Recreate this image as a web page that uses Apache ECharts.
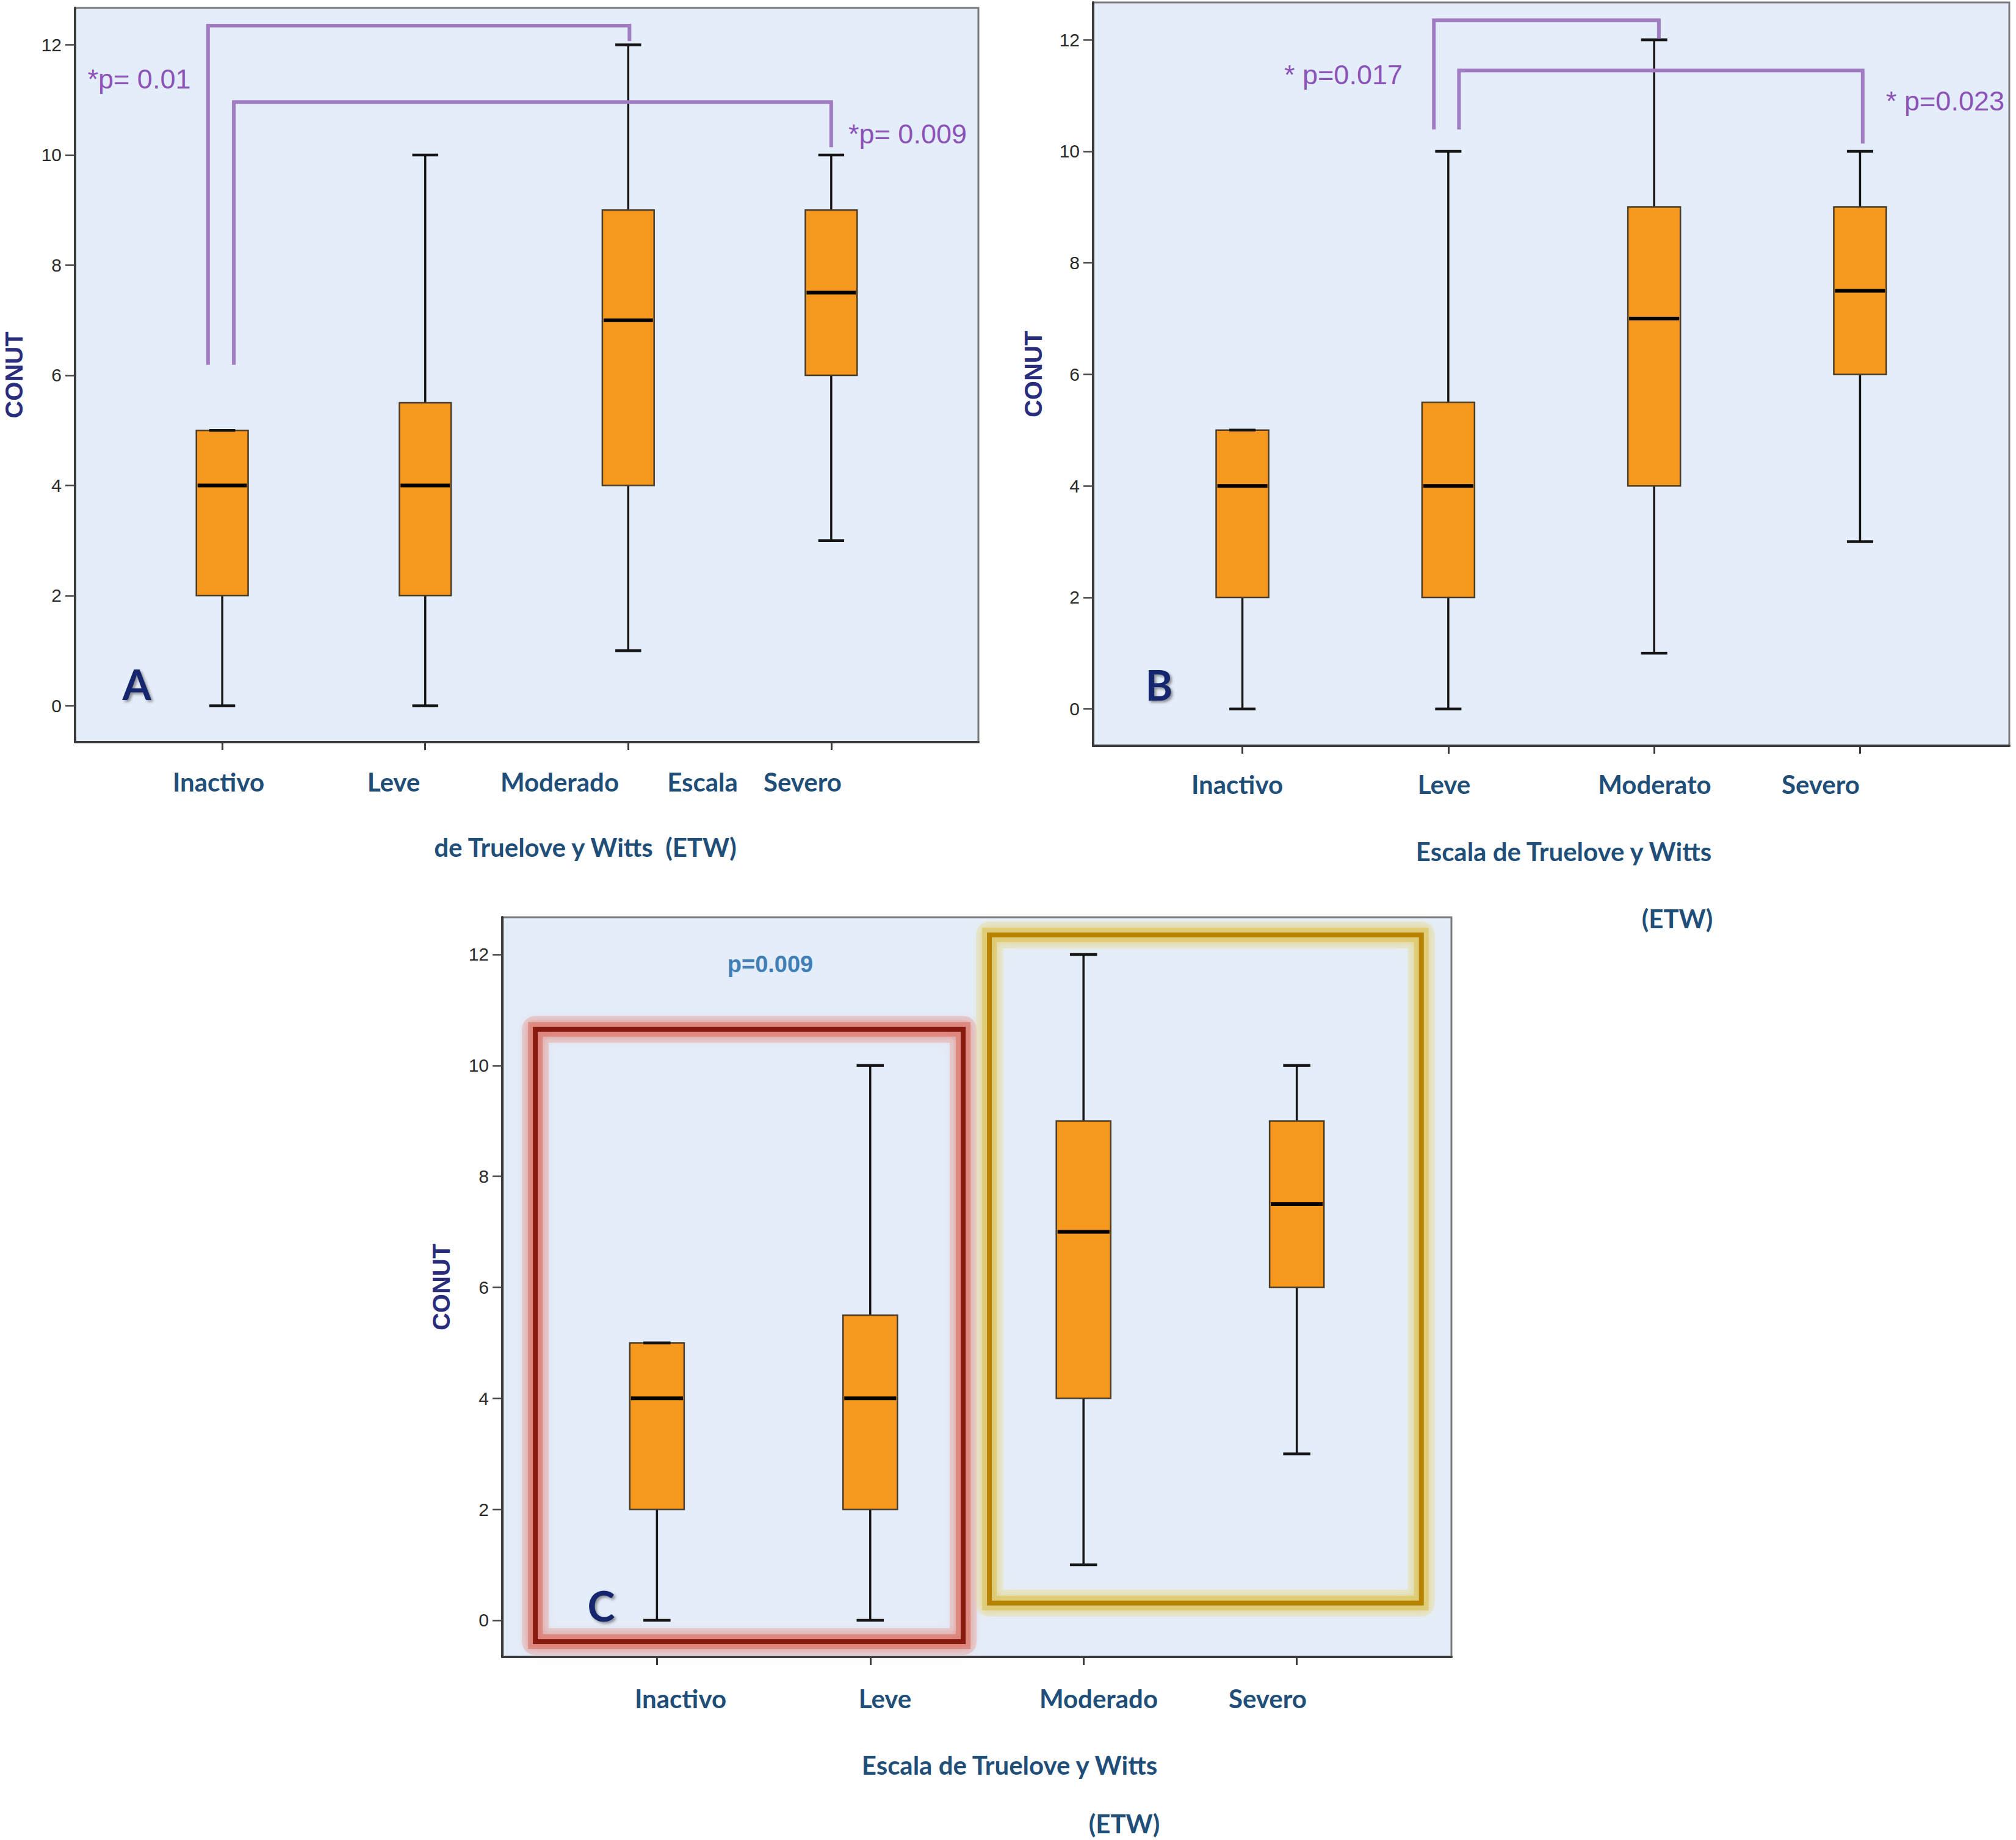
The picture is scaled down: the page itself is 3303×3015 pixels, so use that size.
<!DOCTYPE html>
<html><head><meta charset="utf-8">
<script src="https://cdn.jsdelivr.net/npm/echarts@6/dist/echarts.min.js"></script>
<style>html,body{margin:0;padding:0;background:#fff}#c{width:3303px;height:3015px}</style>
</head><body><div id="c"></div>
<script>
// ---------- data ----------
const categoriesA = ['Inactivo', 'Leve', 'Moderado', 'Severo'];
const categoriesB = ['Inactivo', 'Leve', 'Moderato', 'Severo'];
const categoriesC = ['Inactivo', 'Leve', 'Moderado', 'Severo'];
// [min, Q1, median, Q3, max]
const conutInactivo = [0, 2, 4, 5, 5];
const conutLeve     = [0, 2, 4, 5.5, 10];
const conutModerado = [1, 4, 7, 9, 12];
const conutSevero   = [3, 6, 7.5, 9, 10];
const yTickValues = [0, 2, 4, 6, 8, 10, 12];
const xTickValues = [0, 1, 2, 3];
// significance brackets, in data units [categoryPos, CONUT]
const bracketA1 = [[-0.07, 6.19], [-0.07, 12.35], [2.006, 12.35], [2.006, 12.07]];
const bracketA2 = [[0.057, 6.19], [0.057, 10.96], [3.0, 10.96], [3.0, 10.14]];
const bracketB1 = [[0.93, 10.39], [0.93, 12.35], [2.023, 12.35], [2.023, 12.02]];
const bracketB2 = [[1.052, 10.39], [1.052, 11.45], [3.013, 11.45], [3.013, 10.14]];
const pLabelsA = ['*p= 0.01', '*p= 0.009'];
const pLabelsB = ['* p=0.017', '* p=0.023'];
const pLabelC = 'p=0.009';
// grouping rectangles in panel C [x0, y0, x1, y1]
const groupLow  = [-0.57, -0.385, 1.436, 10.65];
const groupHigh = [1.559, 0.31, 3.584, 12.35];
const axisTitle1 = 'Escala de Truelove y Witts';
const axisTitle2 = '(ETW)';

// ---------- helpers ----------
const stats = [conutInactivo, conutLeve, conutModerado, conutSevero];
const boxData = stats.map((s, i) => [i].concat(s));
const X_MIN = -0.725, X_MAX = 3.725, Y_MIN = -0.66, Y_MAX = 12.67;
const BOX_W = 0.255;

function renderBox(params, api) {
  const x = api.value(0);
  const cMin = api.coord([x, api.value(1)]);
  const cQ1 = api.coord([x, api.value(2)]);
  const cMed = api.coord([x, api.value(3)]);
  const cQ3 = api.coord([x, api.value(4)]);
  const cMax = api.coord([x, api.value(5)]);
  const w = api.size([BOX_W, 0])[0];
  const hw = w / 2, cw = w / 4, cx = cMin[0];
  return {type: 'group', children: [
    {type: 'line', shape: {x1: cx, y1: cMin[1], x2: cx, y2: cQ1[1]}, style: {stroke: '#151515', lineWidth: 3.5}},
    {type: 'line', shape: {x1: cx, y1: cQ3[1], x2: cx, y2: cMax[1]}, style: {stroke: '#151515', lineWidth: 3.5}},
    {type: 'rect', shape: {x: cx - hw, y: cQ3[1], width: w, height: cQ1[1] - cQ3[1]}, style: {fill: '#F7981E', stroke: '#4a3c28', lineWidth: 2.5}},
    {type: 'line', shape: {x1: cx - hw + 2, y1: cMed[1], x2: cx + hw - 2, y2: cMed[1]}, style: {stroke: '#000', lineWidth: 6}},
    {type: 'line', shape: {x1: cx - cw, y1: cMin[1], x2: cx + cw, y2: cMin[1]}, style: {stroke: '#151515', lineWidth: 4.5}},
    {type: 'line', shape: {x1: cx - cw, y1: cMax[1], x2: cx + cw, y2: cMax[1]}, style: {stroke: '#151515', lineWidth: 4.5}}
  ]};
}

function makeRectRenderer(stroke, glow, glowSoft) {
  return function (params, api) {
    const p0 = api.coord([api.value(0), api.value(1)]);
    const p1 = api.coord([api.value(2), api.value(3)]);
    const shape = {x: Math.min(p0[0], p1[0]), y: Math.min(p0[1], p1[1]), width: Math.abs(p1[0] - p0[0]), height: Math.abs(p1[1] - p0[1])};
    return {type: 'group', children: [
      {type: 'rect', shape: shape, style: {fill: 'none', stroke: glowSoft, lineWidth: 44, shadowColor: glowSoft, shadowBlur: 18, lineJoin: 'round'}},
      {type: 'rect', shape: shape, style: {fill: 'none', stroke: glow, lineWidth: 24, shadowColor: glow, shadowBlur: 12, lineJoin: 'miter'}},
      {type: 'rect', shape: shape, style: {fill: 'none', stroke: stroke, lineWidth: 8, lineJoin: 'miter'}}
    ]};
  };
}

const grids = [
  {left: 123, top: 13, width: 1480, height: 1203},
  {left: 1791, top: 4, width: 1501, height: 1218},
  {left: 823, top: 1503, width: 1555, height: 1212}
];
const nameGaps = [80, 78, 80];

const option = {
  backgroundColor: '#ffffff',
  animation: false,
  grid: grids.map(g => Object.assign({show: true, backgroundColor: '#E4EEFA', borderColor: '#7a7a7a', borderWidth: 3}, g)),
  xAxis: grids.map((g, i) => ({
    type: 'value', gridIndex: i, min: X_MIN, max: X_MAX,
    axisLine: {show: true, onZero: false, lineStyle: {color: '#3a3a3a', width: 4}},
    axisTick: {show: true, customValues: xTickValues, length: 13, lineStyle: {color: '#3a3a3a', width: 3}},
    axisLabel: {show: false}, splitLine: {show: false}
  })),
  yAxis: grids.map((g, i) => ({
    type: 'value', gridIndex: i, min: Y_MIN, max: Y_MAX,
    name: 'CONUT', nameLocation: 'middle', nameRotate: 90, nameGap: nameGaps[i],
    nameTextStyle: {fontFamily: 'Liberation Sans', fontWeight: 'bold', fontSize: 40, color: '#2a2d7c'},
    axisLine: {show: true, onZero: false, lineStyle: {color: '#3a3a3a', width: 4}},
    axisTick: {show: true, customValues: yTickValues, length: 16, lineStyle: {color: '#444', width: 2.5}},
    axisLabel: {show: true, customValues: yTickValues, margin: 22, fontFamily: 'Liberation Sans', fontSize: 30, color: '#2a2a2a'},
    splitLine: {show: false}
  })),
  series: [
    {type: 'custom', name: 'groupLow', xAxisIndex: 2, yAxisIndex: 2, data: [groupLow], encode: {x: [0, 2], y: [1, 3]}, renderItem: makeRectRenderer('#871A0E', 'rgba(220,125,115,0.75)', 'rgba(230,150,140,0.35)'), silent: true, clip: false, z: 1},
    {type: 'custom', name: 'groupHigh', xAxisIndex: 2, yAxisIndex: 2, data: [groupHigh], encode: {x: [0, 2], y: [1, 3]}, renderItem: makeRectRenderer('#B68200', 'rgba(222,200,105,0.75)', 'rgba(232,218,140,0.35)'), silent: true, clip: false, z: 1},
    {type: 'custom', name: 'A', xAxisIndex: 0, yAxisIndex: 0, data: boxData, encode: {x: 0, y: [1, 2, 3, 4, 5]}, renderItem: renderBox, z: 3},
    {type: 'custom', name: 'B', xAxisIndex: 1, yAxisIndex: 1, data: boxData, encode: {x: 0, y: [1, 2, 3, 4, 5]}, renderItem: renderBox, z: 3},
    {type: 'custom', name: 'C', xAxisIndex: 2, yAxisIndex: 2, data: boxData, encode: {x: 0, y: [1, 2, 3, 4, 5]}, renderItem: renderBox, z: 3}
  ].concat([[bracketA1, 0], [bracketA2, 0], [bracketB1, 1], [bracketB2, 1]].map(b => ({
    type: 'line', xAxisIndex: b[1], yAxisIndex: b[1], data: b[0], symbol: 'none', silent: true, z: 4,
    lineStyle: {color: '#A27CC2', width: 6, join: 'miter'}
  }))),
  graphic: []
};

function txt(text, x, y, font, fill, extra) {
  return {type: 'text', silent: true, z: 100, style: Object.assign({
    text: text, x: x, y: y, font: font, fill: fill,
    align: 'center', verticalAlign: 'middle', textAlign: 'center', textVerticalAlign: 'middle'
  }, extra || {})};
}
const LBL = 'bold 42px Lato';
const LCOL = '#1F4E79';
const g = option.graphic;
// Panel A x labels
g.push(txt(categoriesA[0], 358, 1281, LBL, LCOL));
g.push(txt(categoriesA[1], 645, 1281, LBL, LCOL));
g.push(txt(categoriesA[2], 917, 1281, LBL, LCOL));
g.push(txt(axisTitle1.split(' ')[0], 1151, 1281, LBL, LCOL));
g.push(txt(categoriesA[3], 1315, 1281, LBL, LCOL));
g.push(txt(axisTitle1.split(' ').slice(1).join(' ') + '  ' + axisTitle2, 959, 1388, LBL, LCOL));
// Panel B x labels
g.push(txt(categoriesB[0], 2027, 1285, LBL, LCOL));
g.push(txt(categoriesB[1], 2366, 1285, LBL, LCOL));
g.push(txt(categoriesB[2], 2711, 1285, LBL, LCOL));
g.push(txt(categoriesB[3], 2983, 1285, LBL, LCOL));
g.push(txt(axisTitle1, 2562, 1395, LBL, LCOL));
g.push(txt(axisTitle2, 2748, 1505, LBL, LCOL));
// Panel C x labels
g.push(txt(categoriesC[0], 1115, 2783, LBL, LCOL));
g.push(txt(categoriesC[1], 1450, 2783, LBL, LCOL));
g.push(txt(categoriesC[2], 1800, 2783, LBL, LCOL));
g.push(txt(categoriesC[3], 2077, 2783, LBL, LCOL));
g.push(txt(axisTitle1, 1654, 2892, LBL, LCOL));
g.push(txt(axisTitle2, 1842, 2988, LBL, LCOL));
// p-values
const PF = '45px "Liberation Sans"';
const PCOL = '#8C52B8';
g.push(txt(pLabelsA[0], 228, 129, PF, PCOL));
g.push(txt(pLabelsA[1], 1487, 219, PF, PCOL));
g.push(txt(pLabelsB[0], 2201, 122, PF, PCOL));
g.push(txt(pLabelsB[1], 3187, 165, PF, PCOL));
g.push(txt(pLabelC, 1262, 1580, 'bold 38px "Liberation Sans"', '#3F7FB5'));
// panel letters
const LETTER = 'bold 68px Lato';
const shadow = {textShadowColor: 'rgba(60,60,60,0.55)', textShadowBlur: 4, textShadowOffsetX: 3, textShadowOffsetY: 3};
g.push(txt('A', 224, 1120, LETTER, '#14286E', shadow));
g.push(txt('B', 1899, 1121, LETTER, '#14286E', shadow));
g.push(txt('C', 985, 2630, LETTER, '#14286E', shadow));

const chart = echarts.init(document.getElementById('c'), null, {renderer: 'svg'});
chart.setOption(option);
</script>
</body></html>
